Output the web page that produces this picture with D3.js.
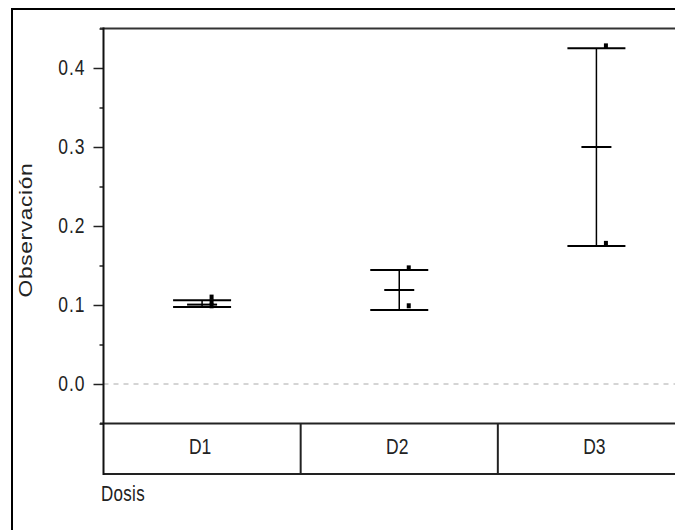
<!DOCTYPE html>
<html>
<head>
<meta charset="utf-8">
<script src="https://cdn.jsdelivr.net/npm/d3@7"></script>
<style>
    body { margin: 0; background: #fff; }
    text { font-family: 'Liberation Sans', Arial, sans-serif; fill: #222; }
</style>
</head>
<body>
<script>
// Data
var categories = ['D1', 'D2', 'D3'];
var means = [0.1005, 0.119, 0.300];
var lowerBars = [0.0975, 0.0937, 0.1747];
var upperBars = [0.1060, 0.1443, 0.4250];
var points = [[0.110, 0.104, 0.099], [0.147, 0.099], [0.428, 0.178]];
var majorTicks = [0.0, 0.1, 0.2, 0.3, 0.4];
var minorTicks = [-0.05, 0.05, 0.15, 0.25, 0.35, 0.45];

window.onload = function(){
    var svg = d3.select('body')
        .append('svg')
        .attr('width', 675)
        .attr('height', 530);

    // outer frame, runs off the right and bottom of the picture
    svg.append('rect')
        .attr('x', 12)
        .attr('y', 9)
        .attr('width', 700)
        .attr('height', 600)
        .style('fill', 'none')
        .style('stroke', '#000')
        .style('stroke-width', 2);

    var y = d3.scaleLinear()
        .domain([-0.05, 0.45])
        .range([423.5, 28.5]);

    var x = d3.scaleBand()
        .domain(categories)
        .range([103.5, 695]);

    var left = 103.5, bandBottom = 474;

    // zero reference line
    svg.append('line')
        .attr('x1', left).attr('x2', 675)
        .attr('y1', y(0)).attr('y2', y(0))
        .style('stroke', '#aaa')
        .style('stroke-width', 1)
        .style('stroke-dasharray', '5,5');

    // minor ticks
    svg.append('g')
        .attr('transform', 'translate(' + left + ',0)')
        .call(d3.axisLeft(y).tickValues(minorTicks).tickSize(4).tickFormat(''))
        .call(function(g){ g.select('.domain').remove(); })
        .selectAll('line').style('stroke', '#222').style('stroke-width', 1.5);

    // major ticks and labels
    var yAxis = svg.append('g')
        .attr('transform', 'translate(' + left + ',0)')
        .call(d3.axisLeft(y).tickValues(majorTicks).tickSize(10).tickFormat(d3.format('.1f')))
        .call(function(g){ g.select('.domain').remove(); });
    yAxis.selectAll('line').style('stroke', '#222').style('stroke-width', 1.5);
    yAxis.selectAll('text')
        .attr('x', null)
        .attr('dy', null)
        .attr('transform', 'translate(-18,6) scale(1,1.3)')
        .style('font-size', '17.5px')
        .style('letter-spacing', '1px')
        .style('fill', '#222');

    // plot top line and band lines
    svg.append('line')
        .attr('x1', 100).attr('x2', 675)
        .attr('y1', y(0.45)).attr('y2', y(0.45))
        .style('stroke', '#333').style('stroke-width', 2);
    svg.append('line')
        .attr('x1', 100).attr('x2', 675)
        .attr('y1', y(-0.05)).attr('y2', y(-0.05))
        .style('stroke', '#222').style('stroke-width', 2);
    svg.append('line')
        .attr('x1', left).attr('x2', 675)
        .attr('y1', bandBottom).attr('y2', bandBottom)
        .style('stroke', '#222').style('stroke-width', 2);
    svg.append('line')
        .attr('x1', left).attr('x2', left)
        .attr('y1', 27.5).attr('y2', bandBottom + 1)
        .style('stroke', '#111').style('stroke-width', 2);

    // category dividers
    svg.selectAll('.divider')
        .data(categories.slice(1))
        .enter()
        .append('line')
        .attr('class', 'divider')
        .attr('x1', function(d){ return x(d); })
        .attr('x2', function(d){ return x(d); })
        .attr('y1', y(-0.05))
        .attr('y2', bandBottom)
        .style('stroke', '#222').style('stroke-width', 2);

    svg.selectAll('.catLabel')
        .data(categories)
        .enter()
        .append('text')
        .attr('class', 'catLabel')
        .attr('text-anchor', 'middle')
        .attr('transform', function(d){
            return 'translate(' + (x(d) + x.bandwidth() / 2 - 2) + ',454) scale(1,1.3)';
        })
        .style('font-size', '17.5px')
        .text(function(d){ return d; });

    // axis titles
    svg.append('text')
        .attr('transform', 'translate(101,501) scale(1,1.3)')
        .style('font-size', '17px')
        .style('letter-spacing', '0.3px')
        .text('Dosis');

    svg.append('text')
        .attr('text-anchor', 'middle')
        .attr('transform', 'translate(32,230) rotate(-90) scale(1.3,1)')
        .style('font-size', '17.5px')
        .style('letter-spacing', '0.5px')
        .text('Observación');

    // error bars
    var groups = svg.selectAll('.group')
        .data(categories)
        .enter()
        .append('g')
        .attr('class', 'group')
        .attr('transform', function(d){ return 'translate(' + (x(d) + x.bandwidth() / 2) + ',0)'; });

    groups.append('line')
        .attr('x1', 0).attr('x2', 0)
        .attr('y1', function(d, i){ return y(upperBars[i]); })
        .attr('y2', function(d, i){ return y(lowerBars[i]); })
        .style('stroke', '#000').style('stroke-width', 1.5);

    groups.append('line')
        .attr('x1', -29).attr('x2', 29)
        .attr('y1', function(d, i){ return y(upperBars[i]); })
        .attr('y2', function(d, i){ return y(upperBars[i]); })
        .style('stroke', '#000').style('stroke-width', 2);

    groups.append('line')
        .attr('x1', -29).attr('x2', 29)
        .attr('y1', function(d, i){ return y(lowerBars[i]); })
        .attr('y2', function(d, i){ return y(lowerBars[i]); })
        .style('stroke', '#000').style('stroke-width', 2);

    groups.append('line')
        .attr('x1', -15).attr('x2', 15)
        .attr('y1', function(d, i){ return y(means[i]); })
        .attr('y2', function(d, i){ return y(means[i]); })
        .style('stroke', '#000').style('stroke-width', 2);

    // data points
    groups.selectAll('.point')
        .data(function(d, i){ return points[i]; })
        .enter()
        .append('rect')
        .attr('class', 'point')
        .attr('x', 7.5)
        .attr('y', function(v){ return y(v) - 2.5; })
        .attr('width', 4)
        .attr('height', 5)
        .style('fill', '#000');
};
</script>
</body>
</html>
